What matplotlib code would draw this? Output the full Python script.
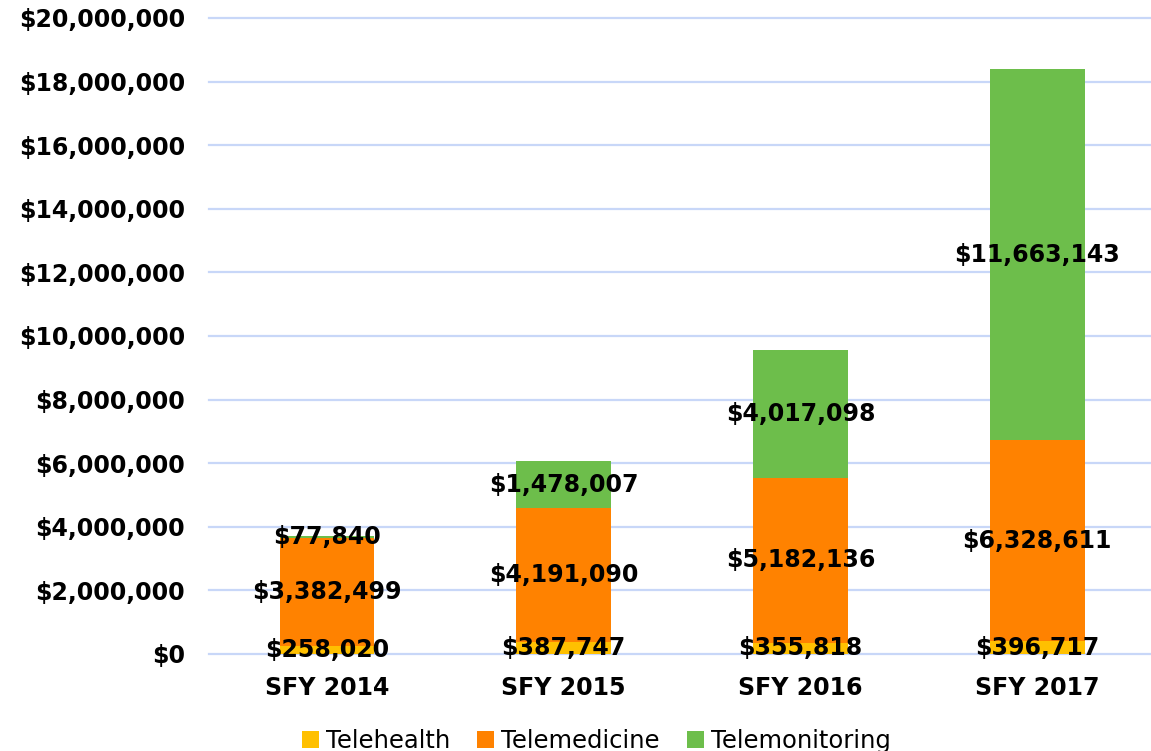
import matplotlib.pyplot as plt
import numpy as np

years = ["SFY 2014", "SFY 2015", "SFY 2016", "SFY 2017"]
telehealth = [258020, 387747, 355818, 396717]
telemedicine = [3382499, 4191090, 5182136, 6328611]
telemonitoring = [77840, 1478007, 4017098, 11663143]

series = [("Telehealth", telehealth, "#FFC000"),
          ("Telemedicine", telemedicine, "#FF8200"),
          ("Telemonitoring", telemonitoring, "#6DBE4B")]

plt.rcParams['font.family'] = ['DejaVu Sans']

fig = plt.figure(figsize=(11.51, 7.51), dpi=100)
ax = fig.add_axes([0.1812, 0.1292, 0.8228, 0.8469])

x = np.arange(len(years))
bottom = np.zeros(len(years))
for name, vals, col in series:
    vals = np.array(vals, dtype=float)
    ax.bar(x, vals, 0.4, bottom=bottom, color=col, label=name, zorder=2)
    for xi, b, v in zip(x, bottom, vals):
        ax.text(xi, b + v / 2, "${:,.0f}".format(v), ha="center", va="center",
                fontsize=17, fontweight="bold", color="black", zorder=3)
    bottom += vals

ax.set_xlim(-0.5, 3.5)
ax.set_ylim(0, 20000000)
ax.set_yticks(np.arange(0, 20000001, 2000000))
ax.yaxis.set_major_formatter(plt.FuncFormatter(lambda v, p: "${:,.0f}".format(v)))
ax.set_xticks(x)
ax.set_xticklabels(years)
for lab in ax.get_xticklabels() + ax.get_yticklabels():
    lab.set_fontweight("bold")
    lab.set_fontsize(17)
ax.tick_params(length=0, pad=17)
ax.tick_params(axis="x", pad=16)
ax.grid(axis="y", color="#C8D7F8", linewidth=1.6, zorder=0)
for gl in ax.get_ygridlines():
    gl.set_clip_on(False)
for s in ax.spines.values():
    s.set_visible(False)

fig.legend(loc="center", bbox_to_anchor=(0.518, 0.013), ncol=3, frameon=False,
           fontsize=17.5, handlelength=0.7, handleheight=0.7, handletextpad=0.3,
           columnspacing=1.1)

fig.savefig("out.png", dpi=100)
